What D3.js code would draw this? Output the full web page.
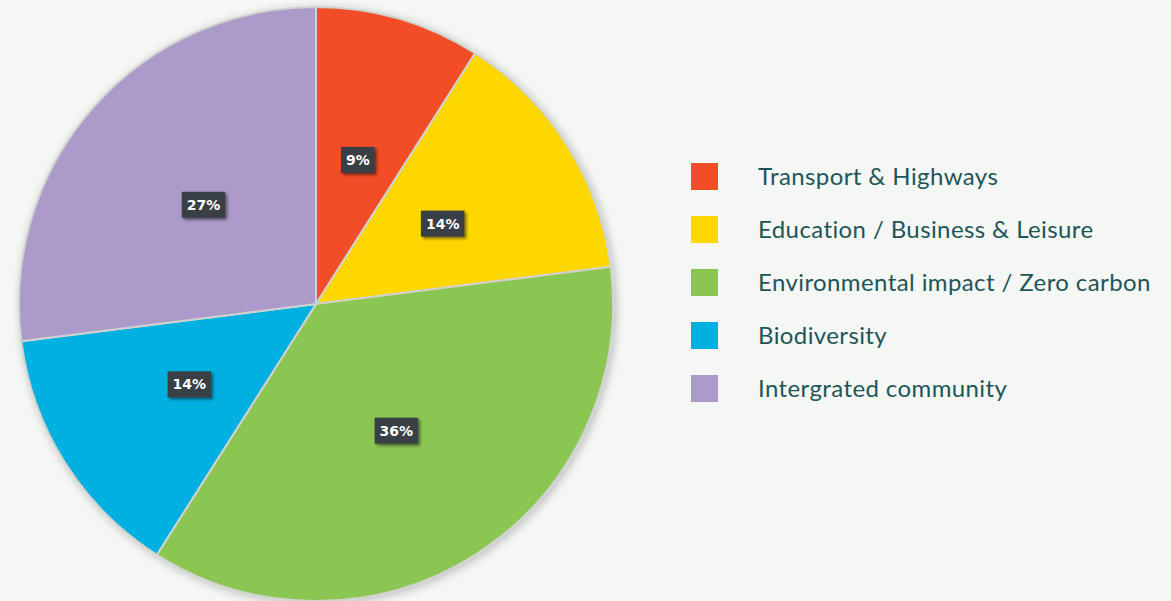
<!DOCTYPE html>
<html><head><meta charset="utf-8">
<script src="https://cdn.jsdelivr.net/npm/d3@7"></script>
<style>
html,body{margin:0;padding:0;background:#f5f7f4;}
svg{display:block;}
</style></head>
<body>
<svg id="chart" width="1171" height="601"></svg>
<script>
const categories = ["Transport & Highways","Education / Business & Leisure","Environmental impact / Zero carbon","Biodiversity","Intergrated community"];
const values = [9, 14, 36, 14, 27];
const colors = ["#f24d28","#fed600","#8bc652","#00b0e0","#ac9bca"];

const svg = d3.select("#chart");
const W = 1171, H = 601;
const cx = 316, cy = 304, R = 297;

const defs = svg.append("defs");
const f = defs.append("filter").attr("id","pieShadow").attr("x","-10%").attr("y","-10%").attr("width","120%").attr("height","120%");
f.append("feGaussianBlur").attr("in","SourceAlpha").attr("stdDeviation",5);
f.append("feOffset").attr("dx",2).attr("dy",2).attr("result","b");
f.append("feComponentTransfer").append("feFuncA").attr("type","linear").attr("slope",0.25);
const m = f.append("feMerge"); m.append("feMergeNode"); m.append("feMergeNode").attr("in","SourceGraphic");

const f2 = defs.append("filter").attr("id","lblShadow").attr("x","-30%").attr("y","-30%").attr("width","160%").attr("height","160%");
f2.append("feGaussianBlur").attr("in","SourceAlpha").attr("stdDeviation",1.5);
f2.append("feOffset").attr("dx",2).attr("dy",2).attr("result","b");
f2.append("feComponentTransfer").append("feFuncA").attr("type","linear").attr("slope",0.5);
const m2 = f2.append("feMerge"); m2.append("feMergeNode"); m2.append("feMergeNode").attr("in","SourceGraphic");

const pie = d3.pie().sort(null).value(d => d)(values);
const arc = d3.arc().innerRadius(0).outerRadius(R);
const labelArc = d3.arc().innerRadius(150).outerRadius(150);

const g = svg.append("g").attr("transform",`translate(${cx},${cy})`);
g.append("g").attr("filter","url(#pieShadow)")
  .selectAll("path").data(pie).join("path")
  .attr("d", arc)
  .attr("fill", (d,i) => colors[i])
  .attr("stroke", "#d0d2cf")
  .attr("stroke-width", 2)
  .attr("stroke-linejoin","round");

const lbl = g.selectAll("g.lbl").data(pie).join("g").attr("class","lbl")
  .attr("transform", d => `translate(${labelArc.centroid(d)})`);
lbl.each(function(d){
  const s = d3.select(this);
  const txt = d.data + "%";
  const t = s.append("text").text(txt)
    .attr("text-anchor","middle").attr("dy","0.36em")
    .attr("fill","#ffffff")
    .style("font-family","'DejaVu Sans', sans-serif")
    .style("font-weight","bold").style("font-size","14px");
  const bb = t.node().getBBox();
  s.insert("rect","text")
    .attr("x", bb.x - 5).attr("y", -13)
    .attr("width", bb.width + 10).attr("height", 26)
    .attr("fill","#393f44")
    .attr("filter","url(#lblShadow)");
});

const leg = svg.append("g");
const rows = leg.selectAll("g").data(categories).join("g")
  .attr("transform", (d,i) => `translate(691, ${163 + i*53})`);
rows.append("rect").attr("width",27).attr("height",27).attr("fill",(d,i)=>colors[i]);
rows.append("text").text(d=>d)
  .attr("x", 67).attr("y", 14).attr("dy","0.35em")
  .attr("fill","#1d5558")
  .style("font-family","Lato, 'Open Sans', sans-serif")
  .style("font-size","24px")
  .style("letter-spacing","0.4px");
</script>
</body></html>
